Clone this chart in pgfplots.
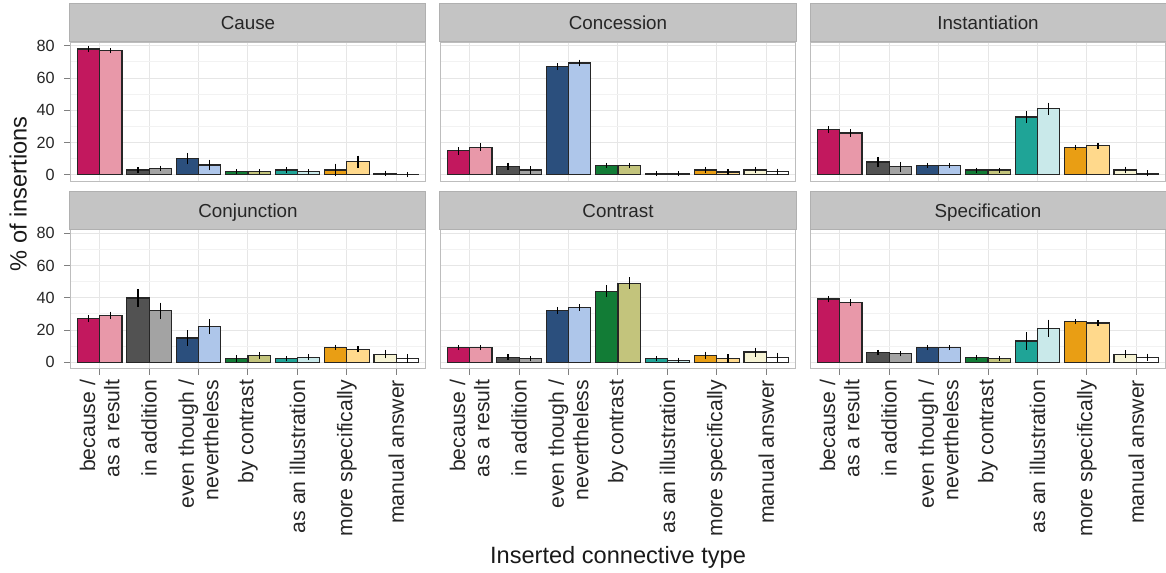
\documentclass[border=0pt]{standalone}
\usepackage{fontspec}
\setmainfont{Liberation Sans}
\usepackage{pgfplots}
\pgfplotsset{compat=1.18}

% fill colours: darker shade = first bar, lighter shade = second bar
\definecolor{cat1a}{HTML}{C2185E}\definecolor{cat1b}{HTML}{E898A9}
\definecolor{cat2a}{HTML}{525252}\definecolor{cat2b}{HTML}{A3A3A3}
\definecolor{cat3a}{HTML}{2B4F7D}\definecolor{cat3b}{HTML}{AEC6EA}
\definecolor{cat4a}{HTML}{127C36}\definecolor{cat4b}{HTML}{C3C47C}
\definecolor{cat5a}{HTML}{1FA497}\definecolor{cat5b}{HTML}{C9E9EA}
\definecolor{cat6a}{HTML}{E99E14}\definecolor{cat6b}{HTML}{FFD98C}
\definecolor{cat7a}{HTML}{F6F3D4}\definecolor{cat7b}{HTML}{FFFFFF}
\definecolor{stripfill}{HTML}{C4C4C4}
\definecolor{stripdraw}{HTML}{B0B0B0}
\definecolor{panelborder}{HTML}{BDBDBD}
\definecolor{gridmajor}{HTML}{E6E6E6}
\definecolor{gridminor}{HTML}{F2F2F2}
\definecolor{tickcol}{HTML}{808080}

\newcommand{\stripfont}{\fontsize{9.4bp}{11bp}\selectfont}
\newcommand{\xtickfont}{\fontsize{10.6bp}{12.2bp}\selectfont}
\newcommand{\ytickfont}{\fontsize{8.1bp}{9.7bp}\selectfont}
\newcommand{\titlefont}{\fontsize{11.8bp}{14bp}\selectfont}

\tikzset{strip/.style={anchor=south, fill=stripfill, draw=stripdraw,
  line width=0.5bp, minimum width=178bp, minimum height=19bp,
  inner sep=0pt, font=\stripfont, text=black!85,
  text height=0.716em, text depth=0pt}}

\pgfplotsset{
  bars/.style={ybar, bar width=0.45, bar shift=0pt,
    draw=black!85, line width=0.6bp,
    error bars/y dir=both, error bars/y explicit,
    error bars/error bar style={line width=0.6bp, black},
    error bars/error mark options={mark size=0.9bp, line width=0.6bp, black}},
  panel/.style={
    scale only axis, width=178bp, height=69.5bp,
    xmin=0.4, xmax=7.6, ymin=-3.9, ymax=82.4,
    xtick={1,...,7}, ytick={0,20,40,60,80}, minor ytick={10,30,50,70},
    xmajorgrids, ymajorgrids, yminorgrids,
    major grid style={draw=gridmajor, line width=0.5bp},
    minor grid style={draw=gridminor, line width=0.5bp},
    axis line style={draw=panelborder, line width=0.5bp},
    tick align=outside, major tick length=3bp, minor tick length=0pt,
    tick style={draw=tickcol, line width=0.5bp},
    xtick pos=left, ytick pos=left,
    xticklabels={}, yticklabels={},
  },
  leftcol/.style={
    yticklabels={0,20,40,60,80},
    yticklabel style={font=\ytickfont, text=black!85, xshift=-1.2bp}},
  innercol/.style={ytick style={draw=none}},
  toprow/.style={xtick style={draw=none}},
  bottomrow/.style={
    xticklabels={{because /\\as a result}, in addition,
      {even though /\\nevertheless}, by contrast, as an illustration,
      more specifically, manual answer},
    xticklabel style={rotate=90, anchor=east, align=right,
      font=\xtickfont, text=black!85, inner sep=2.5bp}},
}

% category, first value, its error, second value, its error
\newcommand{\pair}[5]{%
  \addplot[bars, fill=cat#1a] table[header=false, row sep=\\,
    x expr=#1-0.225, y index=0, y error index=1] {#2 #3\\};
  \addplot[bars, fill=cat#1b] table[header=false, row sep=\\,
    x expr=#1+0.225, y index=0, y error index=1] {#4 #5\\};
}

\begin{document}
\begin{tikzpicture}
\useasboundingbox (0,0) rectangle (583bp,-286.5bp);

% ---- top row ----
\begin{axis}[panel, leftcol, toprow, name=p1,
  at={(35bp,-21bp)}, anchor=north west]
  \pair{1}{78.0}{0.5}{76.9}{0.5}
  \pair{2}{2.9}{0.6}{4.0}{0.6}
  \pair{3}{10.0}{2.4}{6.1}{2.2}
  \pair{4}{1.9}{0.3}{1.9}{0.3}
  \pair{5}{2.9}{0.6}{1.9}{0.5}
  \pair{6}{2.9}{2.8}{8.2}{2.6}
  \pair{7}{1.0}{0.5}{0.2}{0.5}
\end{axis}

\begin{axis}[panel, innercol, toprow, name=p2,
  at={(220bp,-21bp)}, anchor=north west]
  \pair{1}{14.8}{1.2}{17.1}{1.2}
  \pair{2}{5.2}{1.2}{2.9}{1.2}
  \pair{3}{67.1}{1.0}{69.4}{1.0}
  \pair{4}{5.9}{0.4}{5.9}{0.4}
  \pair{5}{0.8}{0.3}{0.8}{0.3}
  \pair{6}{2.9}{0.8}{1.7}{0.7}
  \pair{7}{2.9}{0.8}{1.9}{0.8}
\end{axis}

\begin{axis}[panel, innercol, toprow, name=p3,
  at={(405bp,-21bp)}, anchor=north west]
  \pair{1}{28.0}{1.0}{25.9}{1.1}
  \pair{2}{7.9}{2.0}{5.0}{1.9}
  \pair{3}{5.9}{0.4}{5.9}{0.4}
  \pair{4}{2.9}{0.4}{2.9}{0.4}
  \pair{5}{35.9}{2.5}{41.0}{2.7}
  \pair{6}{17.1}{0.5}{18.0}{0.6}
  \pair{7}{2.9}{1.0}{1.0}{0.8}
\end{axis}

% ---- bottom row ----
\begin{axis}[panel, leftcol, bottomrow, name=p4,
  at={(35bp,-114.75bp)}, anchor=north west]
  \pair{1}{27.1}{1.0}{29.2}{1.1}
  \pair{2}{39.9}{4.2}{31.9}{4.0}
  \pair{3}{15.0}{3.8}{22.1}{3.5}
  \pair{4}{2.1}{1.0}{4.2}{1.0}
  \pair{5}{2.1}{0.4}{3.1}{0.6}
  \pair{6}{9.2}{0.6}{8.1}{0.7}
  \pair{7}{5.0}{1.5}{2.3}{1.8}
\end{axis}

\begin{axis}[panel, innercol, bottomrow, name=p5,
  at={(220bp,-114.75bp)}, anchor=north west]
  \pair{1}{9.0}{0.4}{9.0}{0.4}
  \pair{2}{3.1}{0.6}{2.3}{0.6}
  \pair{3}{32.2}{1.0}{34.0}{1.0}
  \pair{4}{44.1}{2.5}{49.1}{2.5}
  \pair{5}{2.3}{0.4}{1.3}{0.4}
  \pair{6}{4.2}{1.2}{2.3}{1.5}
  \pair{7}{6.3}{1.7}{3.1}{1.7}
\end{axis}

\begin{axis}[panel, innercol, bottomrow, name=p6,
  at={(405bp,-114.75bp)}, anchor=north west]
  \pair{1}{39.2}{0.8}{37.2}{1.0}
  \pair{2}{6.1}{0.5}{5.2}{0.5}
  \pair{3}{9.0}{0.4}{9.0}{0.4}
  \pair{4}{2.9}{0.5}{2.1}{0.5}
  \pair{5}{13.2}{4.3}{21.1}{4.2}
  \pair{6}{25.3}{0.5}{24.4}{0.5}
  \pair{7}{5.0}{1.2}{3.1}{1.2}
\end{axis}

% facet strips
\node[strip] at (p1.north) {Cause};
\node[strip] at (p2.north) {Concession};
\node[strip] at (p3.north) {Instantiation};
\node[strip] at (p4.north) {Conjunction};
\node[strip] at (p5.north) {Contrast};
\node[strip] at (p6.north) {Specification};

% axis titles
\node[rotate=90, anchor=base, font=\titlefont, text=black!90]
  at (13.35bp,-97bp) {\% of insertions};
\node[anchor=base, font=\titlefont, text=black!90]
  at (309bp,-281.75bp) {Inserted connective type};
\end{tikzpicture}
\end{document}
